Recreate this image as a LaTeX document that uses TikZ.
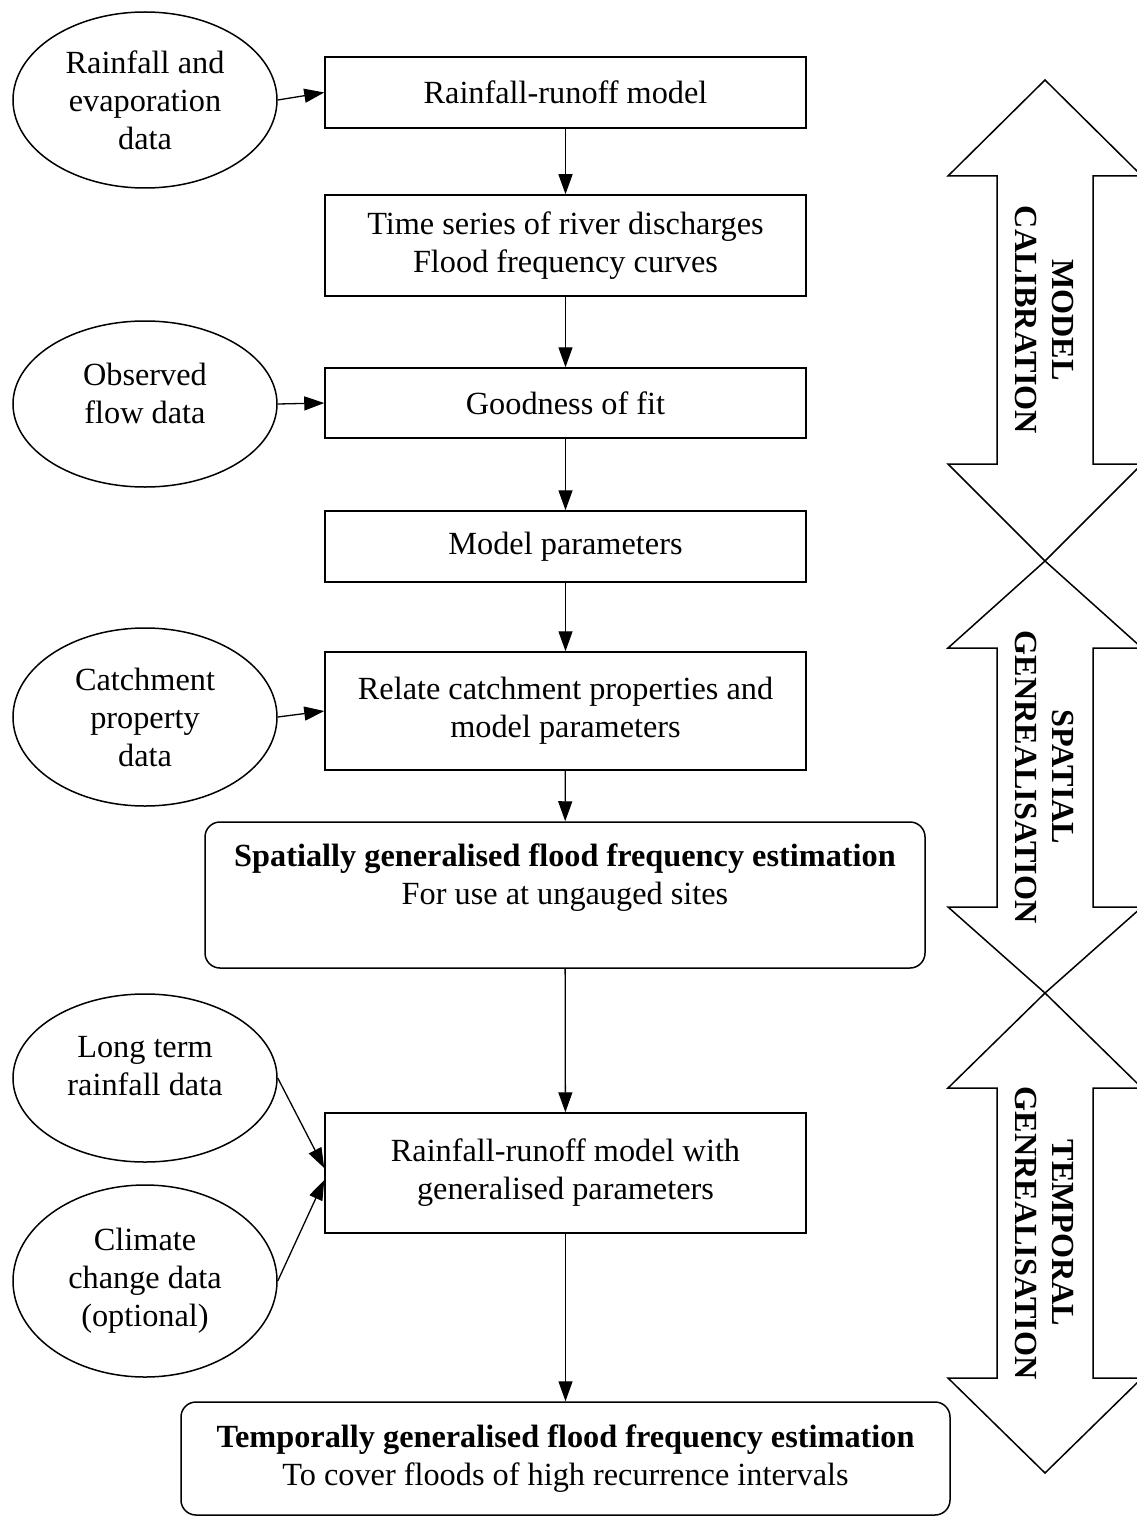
\documentclass[tikz,border=0pt]{standalone}
\usepackage{fontspec}
\setmainfont{Liberation Serif}
\usetikzlibrary{arrows.meta,shapes.geometric}

\tikzset{
  txt/.style={font=\fontsize{32.3}{38}\selectfont, align=center},
  procbox/.style={txt, draw, line width=1.5pt, rectangle, inner sep=0pt,
    minimum width=481pt},
  resultbox/.style={txt, draw, line width=1.5pt, rectangle, rounded corners=15pt,
    inner sep=0pt},
  datanode/.style={txt, draw, line width=1.5pt, ellipse, inner sep=0pt,
    minimum width=264pt},
  conn/.style={line width=1.3pt, -{Triangle[length=20pt,width=14pt]}},
  bigarrow/.style={line width=1.5pt, line join=miter},
  phase/.style={font=\bfseries\fontsize{32.2}{37}\selectfont, align=center, rotate=-90}
}

\begin{document}
\begin{tikzpicture}[x=1pt,y=-1pt]
\useasboundingbox (0,0) rectangle (1137,1517);

% main chain of process boxes
\node[procbox, minimum height=71pt]  (b1) at (565.5,92.5)  {Rainfall-runoff model};
\node[procbox, minimum height=101pt] (b2) at (565.5,245.5) {Time series of river discharges\\Flood frequency curves};
\node[procbox, minimum height=70pt]  (b3) at (565.5,403)   {Goodness of fit};
\node[procbox, minimum height=71pt]  (b4) at (565.5,546.5) {Model parameters};
\node[procbox, minimum height=118pt] (b5) at (565.5,711)   {Relate catchment properties and\\model parameters};
\node[resultbox, minimum width=720pt, minimum height=146pt, text depth=41pt] (b6) at (565,895)
  {\textbf{Spatially generalised flood frequency estimation}\\For use at ungauged sites};
\node[procbox, minimum height=120pt] (b7) at (565.5,1173)  {Rainfall-runoff model with\\generalised parameters};
\node[resultbox, minimum width=769pt, minimum height=113pt] (b8) at (565.5,1458.5)
  {\textbf{Temporally generalised flood frequency estimation}\\To cover floods of high recurrence intervals};

% input data
\node[datanode, minimum height=176pt] (e1) at (145,100)  {Rainfall and\\evaporation\\data};
\node[datanode, minimum height=166pt, text depth=22pt] (e2) at (145,404) {Observed\\flow data};
\node[datanode, minimum height=178pt] (e3) at (145,717)  {Catchment\\property\\data};
\node[datanode, minimum height=168pt, text depth=24pt] (e4) at (145,1078) {Long term\\rainfall data};
\node[datanode, minimum height=192pt] (e5) at (145,1281) {Climate\\change data\\(optional)};

% flow connectors
\draw[conn] (b1) -- (b2);
\draw[conn] (b2) -- (b3);
\draw[conn] (b3) -- (b4);
\draw[conn] (b4) -- (b5);
\draw[conn] (b5) -- (b6);
\draw[conn] (b6) -- (b7);
\draw[conn] (b7) -- (b8);

\draw[conn] (e1.east) -- (b1.west);
\draw[conn] (e2.east) -- (b3.west);
\draw[conn] (e3.east) -- (b5.west);
\draw[conn] (e4.east) -- ([yshift=5pt]b7.west);
\draw[conn] (e5.east) -- ([yshift=-7pt]b7.west);

% phase arrows on the right
\draw[bigarrow] (1045,80) -- (1142,176) -- (1093,176) -- (1093,464) -- (1142,464)
  -- (1045,561) -- (948,464) -- (997,464) -- (997,176) -- (948,176) -- cycle;
\draw[bigarrow] (1045,561) -- (1142,648) -- (1093,648) -- (1093,907) -- (1142,907)
  -- (1045,993) -- (948,907) -- (997,907) -- (997,648) -- (948,648) -- cycle;
\draw[bigarrow] (1045,993) -- (1142,1088) -- (1093,1088) -- (1093,1378) -- (1142,1378)
  -- (1045,1473) -- (948,1378) -- (997,1378) -- (997,1088) -- (948,1088) -- cycle;

\node[phase] (p1) at (1044,320)  {MODEL\\CALIBRATION};
\node[phase] (p2) at (1044,777)  {SPATIAL\\GENREALISATION};
\node[phase] (p3) at (1044,1233) {TEMPORAL\\GENREALISATION};
\end{tikzpicture}
\end{document}
